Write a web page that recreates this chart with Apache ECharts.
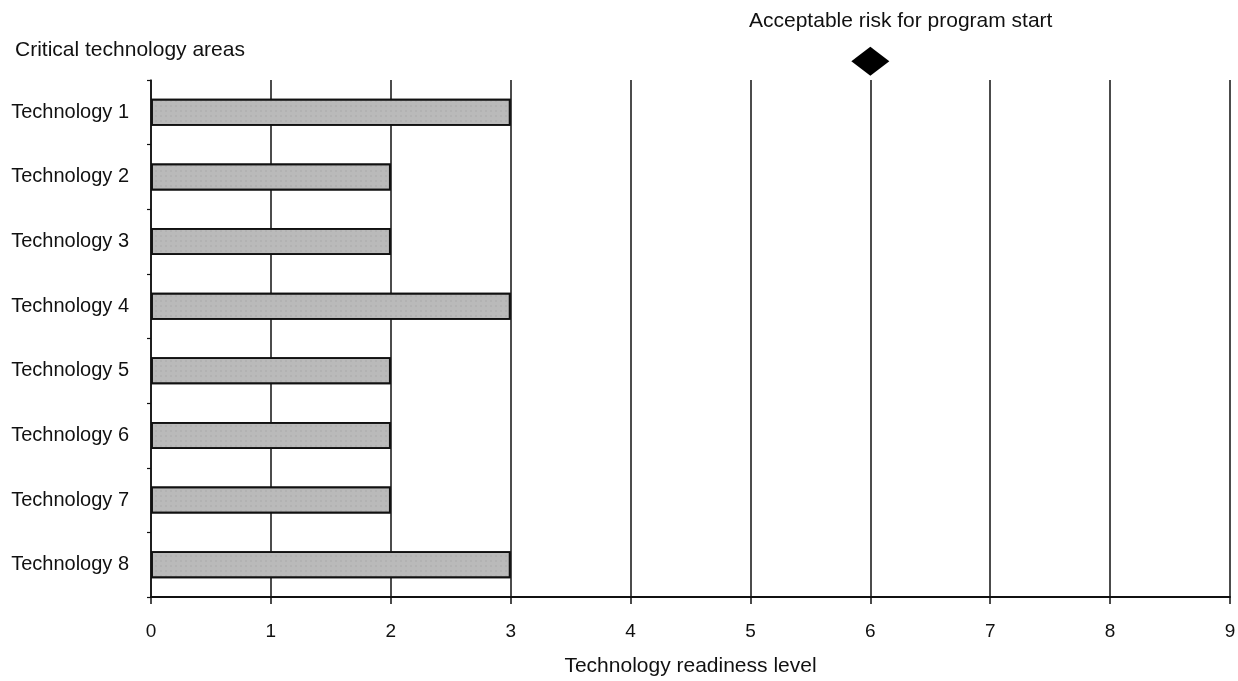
<!DOCTYPE html>
<html>
<head>
<meta charset="utf-8">
<script src="https://cdn.jsdelivr.net/npm/echarts@6/dist/echarts.min.js"></script>
<style>html,body{margin:0;padding:0;background:#fff}#c{width:1238px;height:681px}</style>
</head>
<body>
<div id="c"></div>
<script>
const categories = ['Technology 1','Technology 2','Technology 3','Technology 4','Technology 5','Technology 6','Technology 7','Technology 8'];
const readiness = [3, 2, 2, 3, 2, 2, 2, 3];
const acceptableLevel = [6];
const xTicks = [0,1,2,3,4,5,6,7,8,9];

const font = '"Liberation Sans", Arial, Helvetica, sans-serif';
const chart = echarts.init(document.getElementById('c'));
chart.setOption({
  backgroundColor: '#fff',
  animation: false,
  title: [
    {text: 'Critical technology areas', left: 10, top: 35, textStyle: {fontFamily: font, fontSize: 21, fontWeight: 'normal', color: '#111'}},
    {text: 'Acceptable risk for program start', left: 744, top: 6, textStyle: {fontFamily: font, fontSize: 21, fontWeight: 'normal', color: '#111'}}
  ],
  grid: {left: 151, right: 8, top: 80, bottom: 84, containLabel: false, outerBoundsMode: 'none'},
  xAxis: {
    type: 'value', min: xTicks[0], max: xTicks[xTicks.length-1], interval: 1,
    name: 'Technology readiness level', nameLocation: 'middle', nameGap: 59,
    nameTextStyle: {fontFamily: font, fontSize: 21, color: '#111'},
    axisLine: {show: true, lineStyle: {color: '#111', width: 2}},
    axisTick: {show: true, length: 7, lineStyle: {color: '#111', width: 1.5}},
    axisLabel: {fontFamily: font, fontSize: 19, color: '#111', margin: 25},
    splitLine: {show: true, lineStyle: {color: '#111', width: 1.5}}
  },
  yAxis: {
    type: 'category', data: categories, inverse: true,
    axisLine: {show: true, lineStyle: {color: '#111', width: 1.5}},
    axisTick: {show: true, length: 4, lineStyle: {color: '#111', width: 1.2}},
    axisLabel: {fontFamily: font, fontSize: 20, color: '#111', margin: 22}
  },
  series: [
    {
      type: 'bar', data: readiness, barWidth: 27, z: 3,
      itemStyle: {color: '#bababa', opacity: 1, borderColor: '#111', borderWidth: 1.8,
        decal: {symbol: 'rect', symbolSize: 0.5, color: 'rgba(90,90,90,0.3)', dashArrayX: [2, 3], dashArrayY: [2, 3], rotation: 0}}
    },
    {
      type: 'scatter', clip: false, z: 5,
      data: acceptableLevel.map(v => [v, categories[0]]),
      symbol: 'diamond', symbolSize: [38, 29], symbolOffset: [0, -51],
      itemStyle: {color: '#000', opacity: 1}
    }
  ]
});
</script>
</body>
</html>
